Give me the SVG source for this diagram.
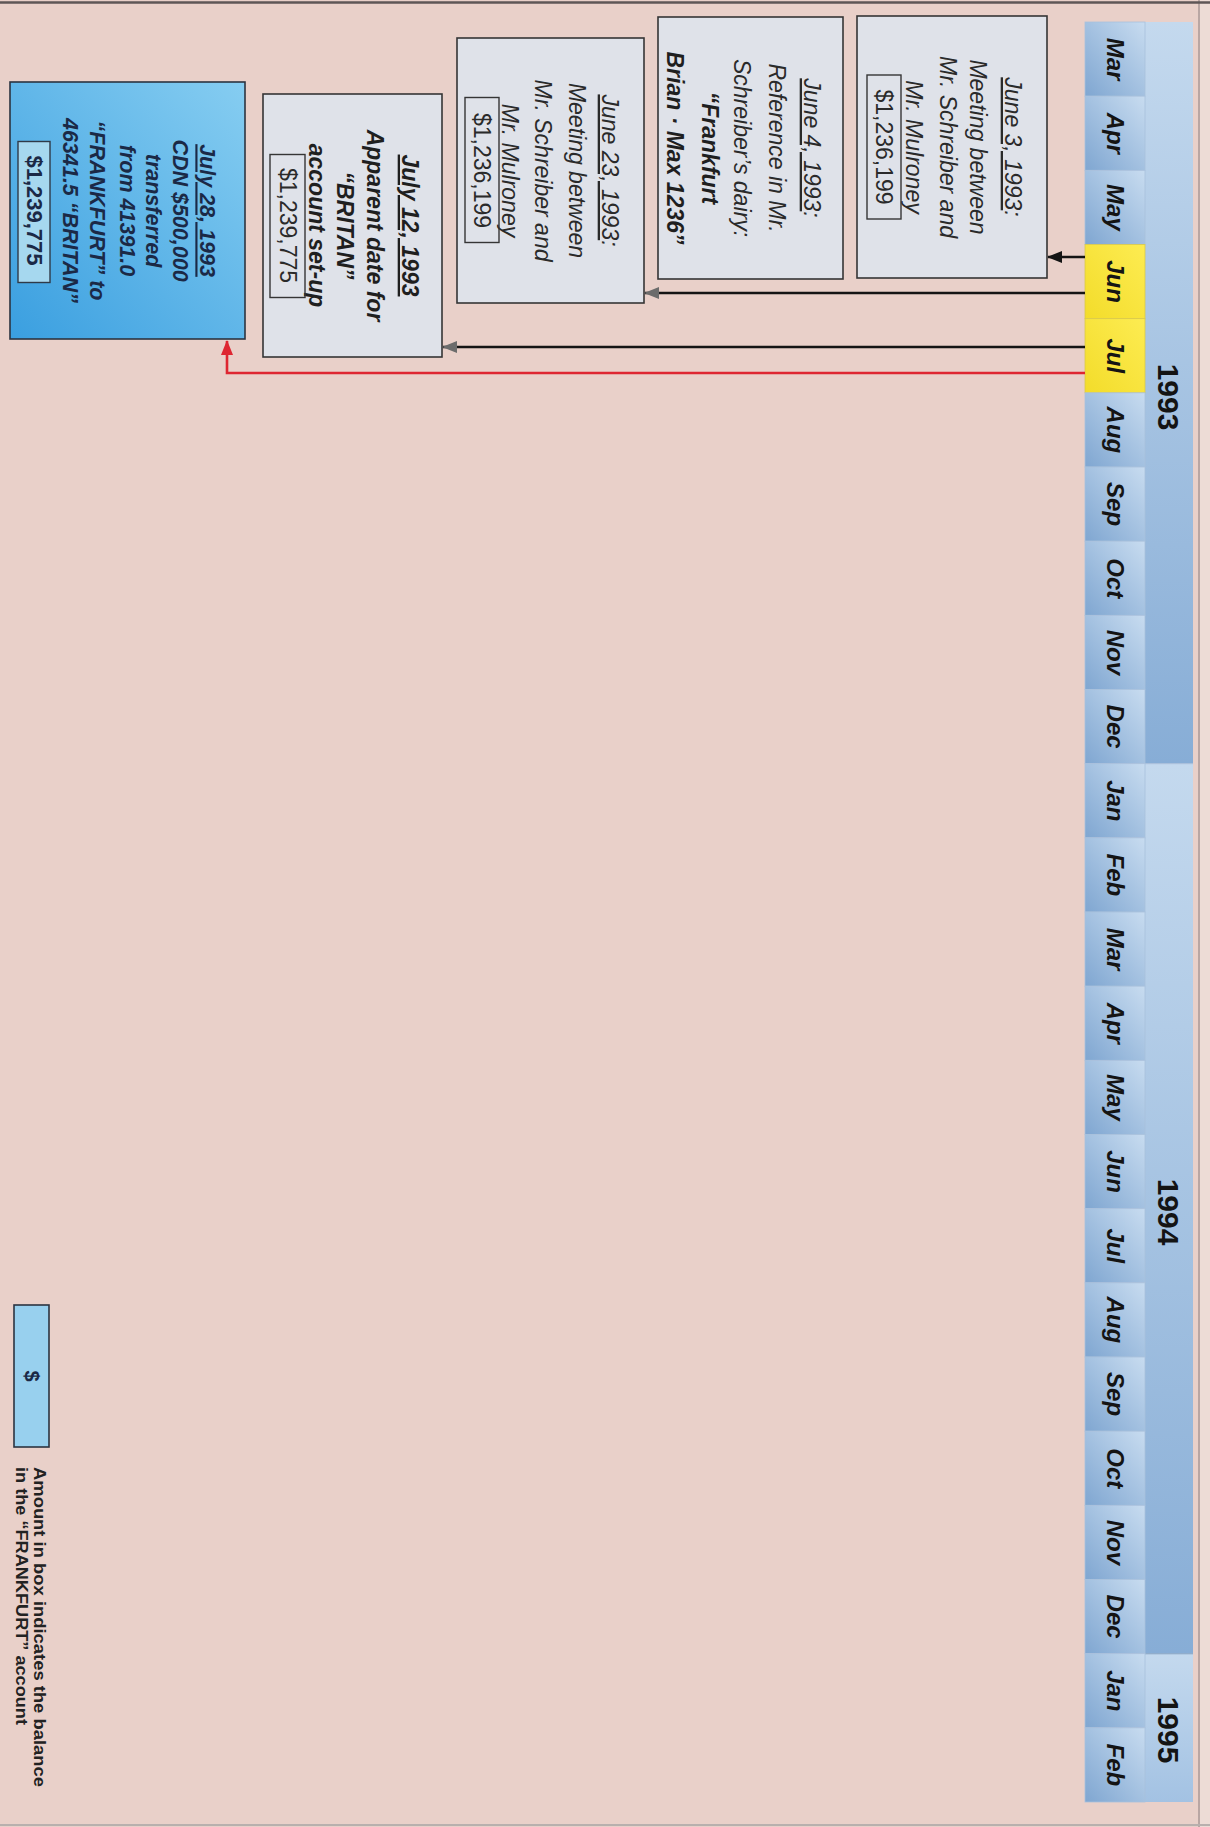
<svg xmlns="http://www.w3.org/2000/svg" width="1210" height="1827" viewBox="0 0 1210 1827">
<defs>
<style>
text{font-family:"Liberation Sans",Arial,Helvetica,sans-serif;}
.bg{fill:#e9d0c9;}
.cell{fill:url(#gCell);stroke:#a9c1dd;stroke-width:0.8;}
.ycell{fill:url(#gYel);stroke:#d9c94a;stroke-width:0.8;}
.mon{font-size:24px;font-weight:bold;font-style:italic;fill:#141414;text-anchor:middle;}
.year{font-size:30px;font-weight:bold;fill:#141414;text-anchor:middle;}
.box{fill:#dfe2e9;stroke:#353535;stroke-width:1.6;}
.t{font-size:23px;font-style:italic;fill:#2a2a2a;text-anchor:middle;}
.tb{font-size:23px;font-style:italic;font-weight:bold;fill:#1f1f1f;text-anchor:middle;}
.amt{fill:none;stroke:#353535;stroke-width:1.4;}
.amtt{font-size:23px;fill:#2a2a2a;text-anchor:middle;}
.t5{font-size:21.5px;font-style:italic;font-weight:bold;fill:#1b2946;text-anchor:middle;}
.amt5{fill:#a6d8ef;stroke:#2f3a48;stroke-width:1.4;}
.amt5t{font-size:22px;font-weight:bold;fill:#1b2946;text-anchor:middle;}
.conn{fill:none;stroke:#141414;stroke-width:2.6;}
.connr{fill:none;stroke:#de2631;stroke-width:2.6;}
.leg{font-size:17px;font-weight:bold;fill:#222;}
</style>
<linearGradient id="gCell" x1="1" y1="0" x2="0" y2="1">
<stop offset="0" stop-color="#c8dcf0"/>
<stop offset="1" stop-color="#7fa6d1"/>
</linearGradient>
<linearGradient id="gYel" x1="1" y1="0" x2="0" y2="1">
<stop offset="0" stop-color="#fdec52"/>
<stop offset="1" stop-color="#f3dc2a"/>
</linearGradient>
<linearGradient id="gYear" x1="0" y1="0" x2="0" y2="1">
<stop offset="0" stop-color="#c4d9ee"/>
<stop offset="1" stop-color="#87add6"/>
</linearGradient>
<linearGradient id="gYear95" x1="0" y1="0" x2="0" y2="1">
<stop offset="0" stop-color="#c4d9ee"/>
<stop offset="1" stop-color="#a3c2e3"/>
</linearGradient>
<linearGradient id="gN5" x1="0" y1="1" x2="1" y2="0">
<stop offset="0" stop-color="#3a9fe0"/>
<stop offset="1" stop-color="#86cdf1"/>
</linearGradient>
<marker id="ahBlack" markerUnits="userSpaceOnUse" markerWidth="15" markerHeight="12" refX="14" refY="6" orient="auto">
<path d="M0,0 L15,6 L0,12 Z" fill="#141414"/>
</marker>
<marker id="ahGray" markerUnits="userSpaceOnUse" markerWidth="15" markerHeight="12" refX="14" refY="6" orient="auto">
<path d="M0,0 L15,6 L0,12 Z" fill="#6c6c6c"/>
</marker>
<marker id="ahRed" markerUnits="userSpaceOnUse" markerWidth="15" markerHeight="12" refX="14" refY="6" orient="auto">
<path d="M0,0 L15,6 L0,12 Z" fill="#de2631"/>
</marker>
</defs>

<rect class="bg" x="0" y="0" width="1210" height="1827"/>
<rect x="1199" y="0" width="11" height="1827" fill="#eddcd6"/>
<line x1="1199" y1="0" x2="1199" y2="1827" stroke="#b9a6a3" stroke-width="2"/>
<line x1="0" y1="2.5" x2="1210" y2="2.5" stroke="#5e5656" stroke-width="2.5"/>
<line x1="0" y1="1825" x2="1210" y2="1825" stroke="#b8b0ae" stroke-width="2"/>

<g id="timeline">
<rect x="1145" y="22" width="48" height="741.7" fill="url(#gYear)"/>
<rect x="1145" y="763.7" width="48" height="890.1" fill="url(#gYear)"/>
<rect x="1145" y="1653.8" width="48" height="148.2" fill="url(#gYear95)"/>
<line x1="1145" y1="763.7" x2="1193" y2="763.7" stroke="#a9c1dd" stroke-width="1"/>
<line x1="1145" y1="1653.8" x2="1193" y2="1653.8" stroke="#8ba7c6" stroke-width="1"/>
<rect class="cell" x="1085" y="22" width="60" height="74.17"/>
<rect class="cell" x="1085" y="96.17" width="60" height="74.17"/>
<rect class="cell" x="1085" y="170.33" width="60" height="74.17"/>
<rect class="ycell" x="1085" y="244.5" width="60" height="74.17"/>
<rect class="ycell" x="1085" y="318.67" width="60" height="74.17"/>
<rect class="cell" x="1085" y="392.83" width="60" height="74.17"/>
<rect class="cell" x="1085" y="467" width="60" height="74.17"/>
<rect class="cell" x="1085" y="541.17" width="60" height="74.17"/>
<rect class="cell" x="1085" y="615.33" width="60" height="74.17"/>
<rect class="cell" x="1085" y="689.5" width="60" height="74.17"/>
<rect class="cell" x="1085" y="763.67" width="60" height="74.17"/>
<rect class="cell" x="1085" y="837.83" width="60" height="74.17"/>
<rect class="cell" x="1085" y="912" width="60" height="74.17"/>
<rect class="cell" x="1085" y="986.17" width="60" height="74.17"/>
<rect class="cell" x="1085" y="1060.33" width="60" height="74.17"/>
<rect class="cell" x="1085" y="1134.5" width="60" height="74.17"/>
<rect class="cell" x="1085" y="1208.67" width="60" height="74.17"/>
<rect class="cell" x="1085" y="1282.83" width="60" height="74.17"/>
<rect class="cell" x="1085" y="1357" width="60" height="74.17"/>
<rect class="cell" x="1085" y="1431.17" width="60" height="74.17"/>
<rect class="cell" x="1085" y="1505.33" width="60" height="74.17"/>
<rect class="cell" x="1085" y="1579.5" width="60" height="74.17"/>
<rect class="cell" x="1085" y="1653.67" width="60" height="74.17"/>
<rect class="cell" x="1085" y="1727.83" width="60" height="74.17"/>
<text class="mon" transform="translate(1115,59.1) rotate(90)" y="8.5">Mar</text>
<text class="mon" transform="translate(1115,133.3) rotate(90)" y="8.5">Apr</text>
<text class="mon" transform="translate(1115,207.4) rotate(90)" y="8.5">May</text>
<text class="mon" transform="translate(1115,281.6) rotate(90)" y="8.5">Jun</text>
<text class="mon" transform="translate(1115,355.8) rotate(90)" y="8.5">Jul</text>
<text class="mon" transform="translate(1115,429.9) rotate(90)" y="8.5">Aug</text>
<text class="mon" transform="translate(1115,504.1) rotate(90)" y="8.5">Sep</text>
<text class="mon" transform="translate(1115,578.3) rotate(90)" y="8.5">Oct</text>
<text class="mon" transform="translate(1115,652.4) rotate(90)" y="8.5">Nov</text>
<text class="mon" transform="translate(1115,726.6) rotate(90)" y="8.5">Dec</text>
<text class="mon" transform="translate(1115,800.8) rotate(90)" y="8.5">Jan</text>
<text class="mon" transform="translate(1115,874.9) rotate(90)" y="8.5">Feb</text>
<text class="mon" transform="translate(1115,949.1) rotate(90)" y="8.5">Mar</text>
<text class="mon" transform="translate(1115,1023.3) rotate(90)" y="8.5">Apr</text>
<text class="mon" transform="translate(1115,1097.4) rotate(90)" y="8.5">May</text>
<text class="mon" transform="translate(1115,1171.6) rotate(90)" y="8.5">Jun</text>
<text class="mon" transform="translate(1115,1245.8) rotate(90)" y="8.5">Jul</text>
<text class="mon" transform="translate(1115,1319.9) rotate(90)" y="8.5">Aug</text>
<text class="mon" transform="translate(1115,1394.1) rotate(90)" y="8.5">Sep</text>
<text class="mon" transform="translate(1115,1468.3) rotate(90)" y="8.5">Oct</text>
<text class="mon" transform="translate(1115,1542.4) rotate(90)" y="8.5">Nov</text>
<text class="mon" transform="translate(1115,1616.6) rotate(90)" y="8.5">Dec</text>
<text class="mon" transform="translate(1115,1690.8) rotate(90)" y="8.5">Jan</text>
<text class="mon" transform="translate(1115,1764.9) rotate(90)" y="8.5">Feb</text>
<text class="year" transform="translate(1168,397) rotate(90)" y="10.5">1993</text>
<text class="year" transform="translate(1168,1212) rotate(90)" y="10.5">1994</text>
<text class="year" transform="translate(1168,1730) rotate(90)" y="10.5">1995</text>
</g>

<g id="connectors">
<path class="conn" d="M1085,257 H1048" marker-end="url(#ahBlack)"/>
<path class="conn" d="M1085,293 H645" marker-end="url(#ahGray)"/>
<path class="conn" d="M1085,347 H443" marker-end="url(#ahGray)"/>
<path class="connr" d="M1085,373 H227 V341" marker-end="url(#ahRed)"/>
</g>

<g id="node-june3">
<rect class="box" x="857" y="16" width="190" height="262"/>
<g transform="translate(952,147) rotate(90)">
<text class="t" y="-53"><tspan text-decoration="underline">June 3, 1993</tspan>:</text>
<text class="t" y="-18">Meeting between</text>
<text class="t" y="12">Mr. Schreiber and</text>
<text class="t" y="46">Mr. Mulroney</text>
<rect class="amt" x="-72" y="51" width="144" height="34"/>
<text class="amtt" y="76">$1,236,199</text>
</g>
</g>

<g id="node-june4">
<rect class="box" x="658" y="17" width="185" height="262"/>
<g transform="translate(750.5,148) rotate(90)">
<text class="t" y="-53.5"><tspan text-decoration="underline">June 4, 1993</tspan>:</text>
<text class="t" y="-18.5">Reference in Mr.</text>
<text class="t" y="16.5">Schreiber’s dairy:</text>
<text class="tb" y="48.5">“Frankfurt</text>
<text class="tb" y="83.5">Brian · Max 1236”</text>
</g>
</g>

<g id="node-june23">
<rect class="box" x="457" y="38" width="187" height="265"/>
<g transform="translate(550.5,170.5) rotate(90)">
<text class="t" y="-51.5"><tspan text-decoration="underline">June 23, 1993</tspan>:</text>
<text class="t" y="-18.5">Meeting between</text>
<text class="t" y="15.5">Mr. Schreiber and</text>
<text class="t" y="48.5">Mr. Mulroney</text>
<rect class="amt" x="-73" y="51.5" width="145" height="34"/>
<text class="amtt" y="76.5">$1,236,199</text>
</g>
</g>

<g id="node-july12">
<rect class="box" x="263" y="94" width="179" height="263"/>
<g transform="translate(352.5,225.5) rotate(90)">
<text class="tb" y="-49.5" text-decoration="underline">July 12, 1993</text>
<text class="tb" y="-14.5">Apparent date for</text>
<text class="tb" y="15.5">“BRITAN”</text>
<text class="tb" y="43.5">account set-up</text>
<rect class="amt" x="-71" y="47.5" width="143" height="35"/>
<text class="amtt" y="73">$1,239,775</text>
</g>
</g>

<g id="node-july28">
<rect x="10" y="82" width="235" height="257" fill="url(#gN5)" stroke="#2c3440" stroke-width="1.6"/>
<g transform="translate(127.5,210.5) rotate(90)">
<text class="t5" y="-72" text-decoration="underline">July 28, 1993</text>
<text class="t5" y="-45">CDN $500,000</text>
<text class="t5" y="-18">transferred</text>
<text class="t5" y="8">from 41391.0</text>
<text class="t5" y="38">“FRANKFURT” to</text>
<text class="t5" y="65">46341.5 “BRITAN”</text>
<rect class="amt5" x="-69" y="77.5" width="141" height="32"/>
<text class="amt5t" y="101">$1,239,775</text>
</g>
</g>

<g id="legend">
<rect x="14" y="1305" width="35" height="142" fill="#98d0ee" stroke="#2c3440" stroke-width="1.6"/>
<text transform="translate(31.5,1376) rotate(90)" y="7" text-anchor="middle" font-size="20" font-weight="bold" fill="#1b2946">$</text>
<g transform="translate(0,1467) rotate(90)">
<text class="leg" x="0" y="-34" textLength="320" lengthAdjust="spacingAndGlyphs">Amount in box indicates the balance</text>
<text class="leg" x="0" y="-16" textLength="258" lengthAdjust="spacingAndGlyphs">in the “FRANKFURT” account</text>
</g>
</g>
</svg>
